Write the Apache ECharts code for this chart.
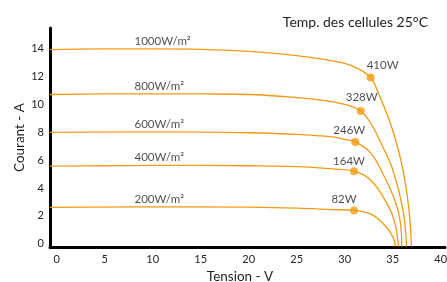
<!DOCTYPE html>
<html>
<head>
<meta charset="utf-8">
<script src="https://cdn.jsdelivr.net/npm/echarts@6/dist/echarts.min.js"></script>
<style>
  html, body { margin: 0; padding: 0; background: #fff; }
  #chart { width: 447px; height: 282px; }
</style>
</head>
<body>
<div id="chart"></div>
<script>
// tick labels
var xTicks = [0, 5, 10, 15, 20, 25, 30, 35, 40];
var yTicks = [0, 2, 4, 6, 8, 10, 12, 14];

// curves: [tension V, courant A]
var irradiance = ['1000W/m²', '800W/m²', '600W/m²', '400W/m²', '200W/m²'];
var curve1000 = [[-0.7, 13.95], [5, 14.0], [10, 14.0], [15, 13.97], [20, 13.82], [25, 13.52], [28, 13.22], [30, 12.95], [31.4, 12.58], [32.7, 11.94], [33.4, 11.0], [35.0, 8.15], [36.07, 5.28], [36.7, 2.4], [36.95, -0.2]];
var curve800 = [[-0.7, 10.72], [5, 10.76], [10, 10.77], [15, 10.76], [20, 10.72], [25, 10.5], [28.5, 10.23], [30.3, 9.95], [31.67, 9.53], [32.76, 8.6], [33.8, 7.2], [35.03, 5.28], [36.07, 2.42], [36.45, -0.2]];
var curve600 = [[-0.7, 8.0], [5, 8.02], [10, 8.03], [15, 8.02], [20, 7.97], [25, 7.85], [28.7, 7.67], [30, 7.5], [31.1, 7.31], [32.6, 6.6], [33.8, 5.28], [35.55, 2.42], [35.95, -0.2]];
var curve400 = [[-0.7, 5.57], [5, 5.6], [10, 5.62], [15, 5.62], [20, 5.6], [25, 5.53], [28.75, 5.37], [30.97, 5.21], [32.8, 4.5], [34.5, 2.75], [35.2, 1.58], [35.6, -0.2]];
var curve200 = [[-0.7, 2.61], [5, 2.63], [10, 2.65], [15, 2.65], [20, 2.62], [25, 2.55], [28.75, 2.45], [30.97, 2.39], [32.8, 2.1], [34.3, 1.22], [35.05, 0.45], [35.3, -0.2]];

// maximum power points
var mppVoltage = [32.7, 31.67, 31.1, 30.97, 30.97];
var mppCurrent = [11.94, 9.53, 7.31, 5.21, 2.39];
var mppPower = ['410W', '328W', '246W', '164W', '82W'];

var ORANGE = '#F39A12';
var TEXT = '#1e1e1e';
var FONT = 'Lato';
var LABEL_V = 8.1; // where the W/m² labels start
var mppOffsets = [[12, -12], [1, -14], [-6, -12], [-5, -10], [-10, -11]];

function currentAt(curve, v) {
  for (var i = 1; i < curve.length; i++) {
    if (curve[i][0] >= v) {
      var a = curve[i - 1], b = curve[i];
      return a[1] + (b[1] - a[1]) * (v - a[0]) / (b[0] - a[0]);
    }
  }
  return curve[curve.length - 1][1];
}

var curves = [curve1000, curve800, curve600, curve400, curve200];

var series = curves.map(function(c, i) {
  return {
    type: 'line',
    name: irradiance[i],
    data: c,
    smooth: 0.4,
    showSymbol: false,
    lineStyle: { color: ORANGE, width: 1.3 },
    z: 2
  };
});

series.push({
  type: 'scatter',
  name: 'irradiance labels',
  symbolSize: 0,
  data: curves.map(function(c, i) {
    return { value: [LABEL_V, currentAt(c, LABEL_V)], name: irradiance[i] };
  }),
  label: {
    show: true,
    position: 'top',
    align: 'left',
    distance: 2,
    formatter: '{b}',
    color: TEXT,
    fontFamily: FONT,
    fontSize: 11.5
  },
  z: 3
});

series.push({
  type: 'scatter',
  name: 'mpp',
  symbol: 'circle',
  symbolSize: 8,
  itemStyle: { color: ORANGE },
  data: mppVoltage.map(function(v, i) {
    return {
      value: [v, mppCurrent[i]],
      name: mppPower[i],
      label: { offset: mppOffsets[i] }
    };
  }),
  label: {
    show: true,
    position: 'inside',
    formatter: '{b}',
    color: TEXT,
    fontFamily: FONT,
    fontSize: 11.5
  },
  z: 4
});

var chart = echarts.init(document.getElementById('chart'), null, { renderer: 'canvas' });
chart.setOption({
  animation: false,
  backgroundColor: '#fff',
  textStyle: { fontFamily: FONT },
  title: {
    text: 'Temp. des cellules 25°C',
    right: 14,
    top: 10,
    textStyle: { color: TEXT, fontFamily: FONT, fontSize: 14, fontWeight: 'normal' }
  },
  grid: { left: 50, right: 2, top: 28, bottom: 35, containLabel: false, outerBoundsMode: 'none' },
  xAxis: {
    type: 'value',
    min: -0.7,
    max: 40.45,
    name: 'Tension - V',
    nameLocation: 'middle',
    nameGap: 23,
    nameTextStyle: { color: TEXT, fontFamily: FONT, fontSize: 13.5, padding: [0, 15, 0, 0] },
    axisLine: { show: true, onZero: false, lineStyle: { color: '#000', width: 3 } },
    axisTick: { show: false },
    splitLine: { show: false },
    axisLabel: { customValues: xTicks, margin: 7, color: TEXT, fontFamily: FONT, fontSize: 11 }
  },
  yAxis: {
    type: 'value',
    min: -0.24,
    max: 15.5,
    name: 'Courant - A',
    nameLocation: 'middle',
    nameGap: 23,
    nameMoveOverlap: false,
    nameTextStyle: { color: TEXT, fontFamily: FONT, fontSize: 13.5 },
    axisLine: { show: true, onZero: false, lineStyle: { color: '#000', width: 3 } },
    axisTick: { show: false },
    splitLine: { show: false },
    axisLabel: { customValues: yTicks, margin: 6, color: TEXT, fontFamily: FONT, fontSize: 11 }
  },
  series: series
});
</script>
</body>
</html>
